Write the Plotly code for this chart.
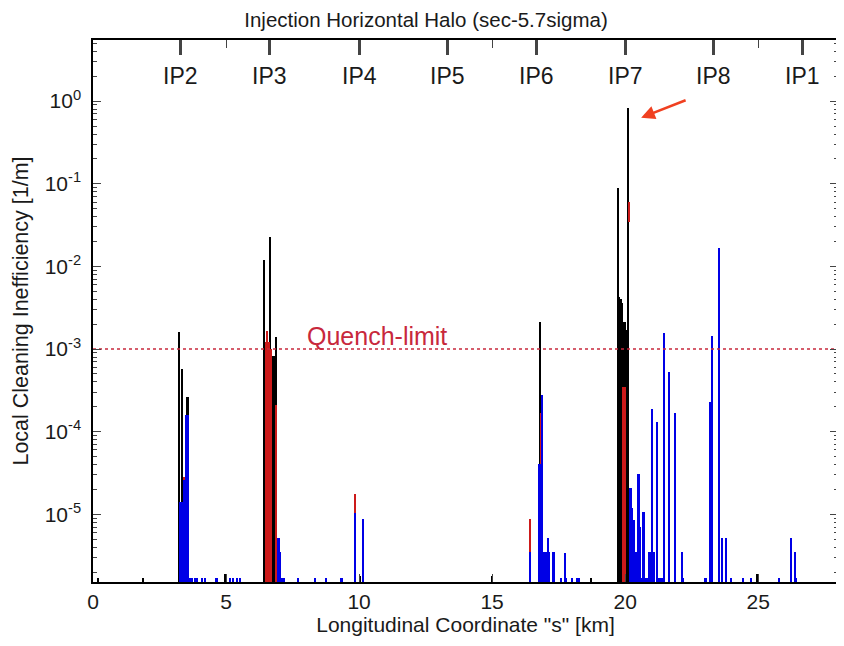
import numpy as np
import plotly.graph_objects as go

# posiciones de los IP (km)
ip_names = ["IP2", "IP3", "IP4", "IP5", "IP6", "IP7", "IP8", "IP1"]
ip_pos = [3.3, 6.64, 10.0, 13.33, 16.66, 20.0, 23.33, 26.66]

quench_limit = 1e-3

# perdidas en colimadores (negro)
black_s = [0.2, 1.9, 3.25, 3.37, 3.56, 4.96, 6.45, 6.67, 6.76, 6.82, 6.89, 10.04,
           15.0, 16.82, 18.71, 19.74, 19.79, 19.84, 19.89, 19.94, 19.99, 20.04,
           20.09, 20.13, 24.96]
black_v = [1.7e-6, 1.7e-6, 1.6e-3, 5.8e-4, 2.6e-4, 1.9e-6, 1.2e-2, 2.3e-2, 8.3e-4,
           8.3e-4, 1.4e-3, 1.8e-6, 1.8e-6, 2.1e-3, 1.7e-6, 8.9e-2, 4.3e-3, 4.0e-3,
           3.6e-3, 2.1e-3, 2.1e-3, 1.7e-3, 1.7e-3, 0.82, 1.9e-6]

# perdidas en zonas calientes (rojo)
red_s = [3.42, 6.50, 6.56, 6.62, 6.70, 6.89, 9.85, 16.43, 16.86, 19.94, 19.99]
red_v = [2.8e-5, 1.2e-3, 1.65e-3, 1.2e-3, 1.0e-3, 2.1e-4, 1.75e-5, 8.7e-6, 1.66e-4,
         3.5e-4, 3.5e-4]
# punta roja junto al pico de IP7 (desde / hasta)
red_tip_s = [20.17]
red_tip_lo = [3.4e-2]
red_tip_hi = [6.0e-2]

# perdidas en zonas frias (azul)
blue_s = [3.28, 3.33, 3.38, 3.42, 3.47, 3.52, 3.56, 3.62, 3.68, 3.74, 3.83, 3.9,
          4.09, 4.21, 4.65, 5.15, 5.26, 5.41, 5.53,
          6.95, 7.0, 7.05, 7.1, 7.15, 7.2, 7.7, 8.35, 8.78, 9.35, 9.85, 10.16,
          16.45, 16.78, 16.83, 16.88, 16.93, 16.98, 17.03, 17.1, 17.15, 17.3, 17.35,
          17.6, 17.75, 17.8, 18.0, 18.21, 18.27,
          20.18, 20.23, 20.28, 20.33, 20.38, 20.43, 20.51, 20.56, 20.61, 20.7,
          20.78, 20.83, 20.9, 20.95, 21.02, 21.08, 21.21, 21.3, 21.35, 21.4, 21.47,
          21.66, 21.88, 22.13, 22.18,
          23.03, 23.21, 23.28, 23.55, 23.66, 23.79, 23.99, 24.44, 24.75, 25.8,
          26.24, 26.38, 26.43]
blue_v = [1.4e-5, 1.4e-5, 1.4e-5, 2.6e-5, 2.6e-5, 1.6e-4, 1.6e-4, 1.7e-6, 1.7e-6,
          1.7e-6, 1.7e-6, 1.7e-6, 1.7e-6, 1.7e-6, 1.7e-6, 1.7e-6, 1.7e-6, 1.7e-6,
          1.7e-6,
          5.1e-6, 5.1e-6, 3.5e-6, 1.7e-6, 1.7e-6, 1.7e-6, 1.7e-6, 1.7e-6, 1.7e-6,
          1.7e-6, 1.04e-5, 8.7e-6,
          3.5e-6, 4.1e-5, 4.1e-5, 2.8e-4, 3.5e-6, 3.5e-6, 3.5e-6, 5.2e-6, 3.5e-6,
          3.5e-6, 3.5e-6, 1.7e-6, 3.4e-6, 1.7e-6, 1.7e-6, 1.7e-6, 1.7e-6,
          2.1e-5, 2.1e-5, 1.2e-5, 8.5e-6, 3.5e-6, 3.5e-6, 3.1e-5, 7.1e-6, 1.7e-6,
          1.07e-5, 1.7e-6, 1.7e-6, 3.5e-6, 3.5e-6, 1.9e-4, 3.5e-6, 1.3e-4, 1.7e-6,
          1.7e-6, 1.7e-6, 1.55e-3, 5.3e-4, 1.7e-4, 3.5e-6, 1.7e-6,
          1.7e-6, 2.3e-4, 1.44e-3, 1.65e-2, 5.1e-6, 5.1e-6, 1.7e-6, 1.7e-6, 1.7e-6,
          1.7e-6, 5.1e-6, 3.5e-6, 1.7e-6]

font = "Liberation Sans"
txt = "#1a1a1a"
red = "#cc1a1a"
bar_w = 0.06

fig = go.Figure()
for s, v, c in [(black_s, black_v, "#000000"),
                (red_s, red_v, red),
                (blue_s, blue_v, "#0000e6")]:
    fig.add_trace(go.Bar(x=s, y=v, width=bar_w, marker=dict(color=c, line=dict(width=0)),
                         showlegend=False))
fig.add_trace(go.Bar(x=red_tip_s, y=[h - l for h, l in zip(red_tip_hi, red_tip_lo)],
                     base=red_tip_lo, width=bar_w,
                     marker=dict(color=red, line=dict(width=0)), showlegend=False))

# limite de quench
fig.add_trace(go.Scatter(x=[0, 28], y=[quench_limit, quench_limit], mode="lines",
                         line=dict(color="#c8283c", width=1.5, dash="dot"),
                         showlegend=False))
# eje superior para los IP
fig.add_trace(go.Scatter(x=ip_pos, y=[quench_limit] * len(ip_pos), xaxis="x2",
                         mode="markers", marker=dict(opacity=0), showlegend=False,
                         hoverinfo="skip"))

for name, p in zip(ip_names, ip_pos):
    fig.add_annotation(x=p, y=0.305, text=name, showarrow=False,
                       font=dict(family=font, size=23, color=txt))

fig.add_annotation(x=10.66, y=np.log10(quench_limit), yshift=13, text="Quench-limit",
                   showarrow=False, font=dict(family=font, size=25, color="#c8283c"))

# flecha
fig.add_annotation(x=20.6, y=-0.2, ax=46, ay=-18, text="", showarrow=True,
                   arrowhead=2, arrowsize=1.1, arrowwidth=2.5, arrowcolor="#f04020")

dec = [-5, -4, -3, -2, -1, 0]
minor_vals = [k * 10.0 ** d for d in range(-6, 1) for k in range(2, 10)]

# la pagina tiene 8 px de margen: se compensa aqui
fig.update_layout(
    width=836, height=638,
    margin=dict(l=85, r=6, t=32, b=64),
    paper_bgcolor="white", plot_bgcolor="white",
    barmode="overlay", bargap=0,
    title=dict(text="Injection Horizontal Halo (sec-5.7sigma)", x=0.5, xanchor="center",
               y=0.982, yanchor="middle", font=dict(family=font, size=20.5, color=txt)),
    xaxis=dict(range=[0, 28], tickvals=[0, 5, 10, 15, 20, 25], ticks="inside",
               ticklen=8, showline=True, linecolor="black", linewidth=1.5, mirror="ticks",
               showgrid=False, zeroline=False, automargin=False,
               tickfont=dict(family=font, size=21, color=txt),
               title=dict(text='Longitudinal Coordinate "s" [km]', standoff=2,
                          font=dict(family=font, size=21, color=txt))),
    xaxis2=dict(range=[0, 28], overlaying="x", side="top", tickvals=ip_pos,
                showticklabels=False, ticks="inside", ticklen=15, tickwidth=3,
                showgrid=False, zeroline=False, showline=False, automargin=False),
    yaxis=dict(type="log", range=[-5.82, 0.74], tickvals=[10.0 ** d for d in dec],
               ticktext=["10<sup>%d</sup>" % d for d in dec], ticks="inside", ticklen=8,
               ticklabelstandoff=6,
               minor=dict(ticks="inside", ticklen=4, tickmode="array",
                          tickvals=minor_vals, showgrid=False),
               showline=True, linecolor="black", linewidth=1.5, mirror="ticks",
               showgrid=False, zeroline=False, automargin=False,
               tickfont=dict(family=font, size=21, color=txt),
               title=dict(text="Local Cleaning Inefficiency [1/m]", standoff=10,
                          font=dict(family=font, size=21.5, color=txt))),
)

fig.write_html("out.html")
